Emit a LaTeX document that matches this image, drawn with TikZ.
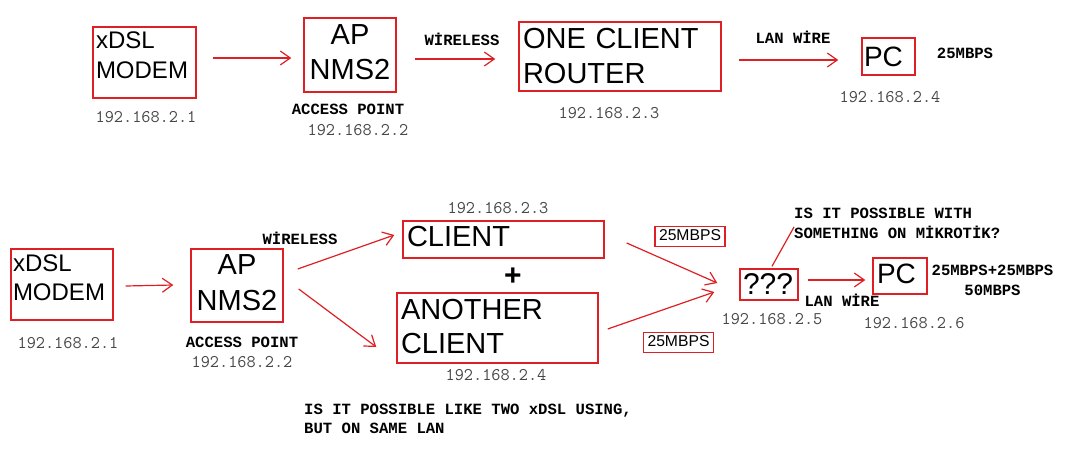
\documentclass[tikz,border=0pt]{standalone}
\usepackage{fontspec}
\setmainfont{Liberation Sans}
\newfontfamily\lblmono{Liberation Mono}
\usetikzlibrary{arrows.meta,calc}
\definecolor{boxred}{RGB}{222,32,36}

\begin{document}
\begin{tikzpicture}[x=1pt,y=-1pt,
	box/.style={draw=boxred, line width=1.4pt, inner ysep=3pt},
	ip/.style={font=\ttfamily\fontsize{17.8}{20}\selectfont, text=black!72, inner sep=0pt},
	lbl/.style={font=\lblmono\bfseries\fontsize{15.6}{20}\selectfont, inner sep=0pt},
	arr/.style={draw=boxred, line width=1.2pt, -{Straight Barb[length=10pt,width=14pt]}}]
		\fill[white] (0,0) rectangle (1066,450);
		\useasboundingbox (0,0) rectangle (1066,450);

		\node[box, font=\fontsize{24}{30}\selectfont, inner xsep=3pt, text width=97pt, align=left, minimum height=71pt, text depth=44pt] (m1) at (144.5,62.5){xDSL\\MODEM};
		\node[box, font=\fontsize{29}{35}\selectfont, inner xsep=3pt, text width=86pt, align=center, minimum height=74pt, text depth=40.5pt] (ap1) at (350,55){AP\\NMS2};
		\node[box, font=\fontsize{29}{35}\selectfont, inner xsep=4pt, text width=194pt, align=left, minimum height=69pt, text depth=35.5pt] (r1) at (620,56.5){ONE CLIENT\\ROUTER};
		\node[box, font=\fontsize{28}{34}\selectfont, inner xsep=2pt, text width=49pt, align=left, minimum height=37pt, text depth=0pt] (pc1) at (888.5,56.5){PC};
		\node[ip] (i1) at (146,117){192.168.2.1};
		\node[lbl] (ac1) at (348,109){ACCESS POINT};
		\node[ip] (i2) at (358,130){192.168.2.2};
		\node[lbl] (w1) at (462,39){WİRELESS};
		\node[ip] (i3) at (609,113){192.168.2.3};
		\node[lbl] (lw1) at (793,37){LAN WİRE};
		\node[lbl] (sp1) at (965,53){25MBPS};
		\node[ip] (i4) at (890,97){192.168.2.4};
		\draw[arr] ($(m1.east)+(16,-4.5)$) -- ($(ap1.west)+(-12,3)$);
		\draw[arr] ($(ap1.east)+(18,4)$) -- ($(r1.west)+(-23,2.5)$);
		\draw[arr] ($(r1.east)+(17,3.5)$) -- ($(pc1.west)+(-23,3.5)$);

		\node[box, font=\fontsize{24}{29}\selectfont, inner xsep=2pt, text width=98pt, align=left, minimum height=71pt, text depth=42pt] (m2) at (62,284.5){xDSL\\MODEM};
		\node[box, font=\fontsize{29}{36}\selectfont, inner xsep=3pt, text width=86pt, align=center, minimum height=73pt, text depth=41.5pt] (ap2) at (237,285.5){AP\\NMS2};
		\node[box, font=\fontsize{29}{35}\selectfont, inner xsep=4pt, text width=193pt, align=left, minimum height=37pt, text depth=5.5pt] (c2) at (503.5,239.5){CLIENT};
		\node[box, font=\fontsize{29}{34}\selectfont, inner xsep=4pt, text width=193pt, align=left, minimum height=70pt, text depth=36.5pt] (c3) at (497.5,328){ANOTHER\\CLIENT};
		\node[box, font=\fontsize{30}{36}\selectfont, inner xsep=3pt, text width=52pt, align=left, minimum height=31pt, text depth=1pt] (q) at (769,284.5){???};
		\node[box, font=\fontsize{28}{34}\selectfont, inner xsep=4pt, text width=46pt, align=left, minimum height=36pt, text depth=4pt] (pc2) at (900,276){PC};
		\node[box, line width=1.2pt, font=\fontsize{15.7}{18}\selectfont, inner xsep=0pt, minimum width=70pt, minimum height=19pt, text depth=3pt] (s1) at (690,236.5){25MBPS};
		\node[box, line width=1.2pt, font=\fontsize{15.7}{18}\selectfont, inner xsep=0pt, minimum width=70pt, minimum height=19pt, text depth=3pt] (s2) at (678.5,342.5){25MBPS};
		\node[ip] (i5) at (68,343){192.168.2.1};
		\node[lbl] (w2) at (300,238){WİRELESS};
		\node[lbl] (ac2) at (242,342){ACCESS POINT};
		\node[ip] (i6) at (242,362){192.168.2.2};
		\node[ip] (i7) at (498,208){192.168.2.3};
		\node[font=\bfseries\fontsize{30}{36}\selectfont, inner sep=0pt] (plus) at (513,277){+};
		\node[ip] (i8) at (496,375){192.168.2.4};
		\node[ip] (i9) at (772,319){192.168.2.5};
		\node[ip] (i10) at (914,323){192.168.2.6};
		\node[lbl] (lw2) at (842,300){LAN WİRE};
		\node[lbl, align=center] (sp2) at (992.5,280.5){25MBPS+25MBPS\\50MBPS};
		\node[lbl, align=left, anchor=west] (ask) at (794,223){IS IT POSSIBLE WITH\\SOMETHING ON MİKROTİK?};
		\node[lbl, align=left, anchor=west, font=\lblmono\bfseries\fontsize{15.6}{19}\selectfont] (note) at (304,419){IS IT POSSIBLE LIKE TWO xDSL USING,\\BUT ON SAME LAN};
		\draw[arr] ($(m2.east)+(12,1.5)$) -- ($(ap2.west)+(-17,-0.5)$);
		\draw[arr] ($(ap2.east)+(14,-16.5)$) -- ($(c2.west)+(-8,-4.5)$);
		\draw[arr] ($(ap2.east)+(15,3.5)$) -- ($(c3.west)+(-20,19)$);
		\draw[arr] ($(c2.east)+(22,3.5)$) -- ($(q.west)+(-22,-1.5)$);
		\draw[arr] ($(c3.east)+(9,1)$) -- ($(q.west)+(-25,7.5)$);
		\draw[arr] ($(q.east)+(9,-4.5)$) -- ($(pc2.west)+(-7,4)$);
		\draw[boxred, line width=1.2pt] ($(q.north)+(3,-2)$) -- ($(ask.west)+(0,4)$);
		\end{tikzpicture}
\end{document}
